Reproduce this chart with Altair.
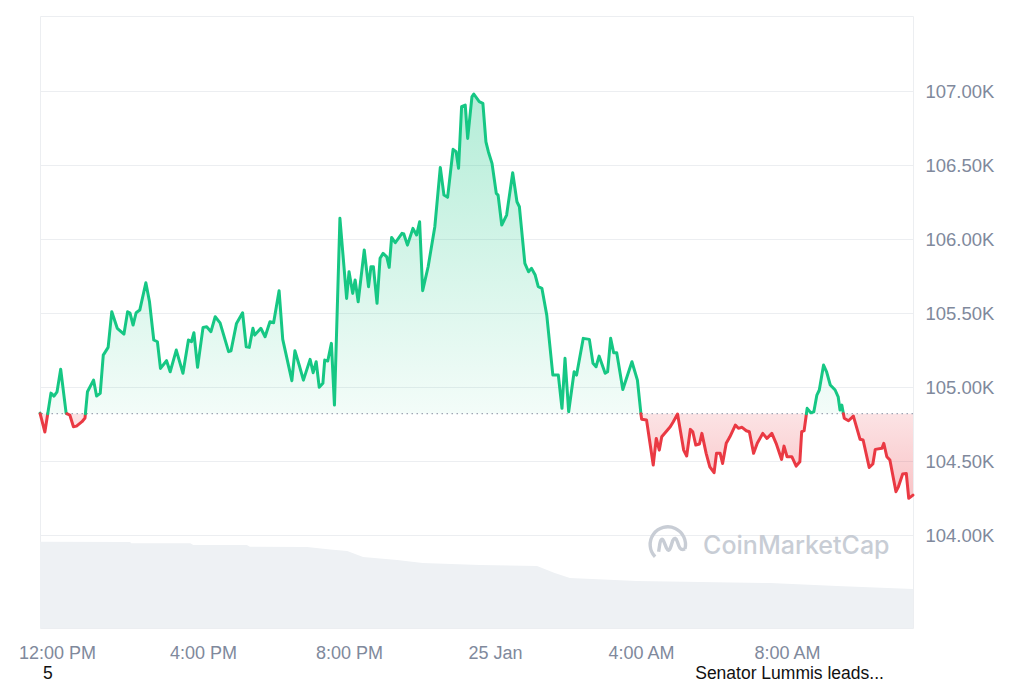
import altair as alt
import pandas as pd

# ---------------- data (prices in thousands of USD) ----------------
BASE_PRICE = 104.82  # reference price (dotted line)

TIMES = [
    "11:32","11:40","11:50","11:55","12:00","12:06","12:15","12:21","12:27","12:32",
    "12:41","12:46","12:50","13:00","13:05","13:11","13:16","13:24","13:30","13:39",
    "13:50","13:56","14:00","14:05","14:10","14:16","14:26","14:32","14:39","14:45",
    "14:50","15:00","15:06","15:16","15:27","15:36","15:41","15:45","15:51","16:00",
    "16:06","16:13","16:20","16:28","16:42","16:46","16:55","17:05","17:11","17:16",
    "17:22","17:25","17:35","17:42","17:50","17:56","18:05","18:11","18:26","18:31",
    "18:38","18:45","18:56","19:01","19:06","19:11","19:17","19:20","19:25","19:31",
    "19:36","19:45","19:56","20:00","20:06","20:10","20:15","20:25","20:32","20:36",
    "20:40","20:46","20:51","20:56","21:02","21:06","21:10","21:16","21:27","21:30",
    "21:36","21:45","21:51","21:56","22:01","22:10","22:21","22:30","22:36","22:42",
    "22:51","22:56","23:00","23:05","23:11","23:15","23:22","23:25","23:34","23:40",
    "23:45","23:49","23:55","00:02","00:05","00:11","00:19","00:29","00:36","00:40",
    "00:49","00:55","01:00","01:06","01:11","01:17","01:25","01:35","01:44","01:50",
    "01:55","02:01","02:10","02:14","02:25","02:35","02:41","02:46","02:51","03:01",
    "03:05","03:10","03:15","03:20","03:30","03:45","03:54","04:00","04:01","04:09",
    "04:20","04:25","04:30","04:34","04:48","04:53","05:00","05:10","05:15","05:21",
    "05:25","05:30","05:36","05:40","05:47","05:53","06:00","06:04","06:10","06:14",
    "06:20","06:26","06:35","06:40","06:46","06:53","06:58","07:05","07:11","07:20",
    "07:27","07:35","07:42","07:51","07:55","08:00","08:08","08:15","08:21","08:24",
    "08:28","08:33","08:39","08:44","08:49","08:53","09:00","09:05","09:11","09:19",
    "09:24","09:27","09:30","09:34","09:41","09:49","10:00","10:05","10:15","10:21",
    "10:25","10:36","10:39","10:44","10:49","10:59","11:03","11:10","11:16","11:20",
    "11:27",
]

PRICES = [
    104.824,104.696,104.959,104.939,104.968,105.120,104.822,104.811,104.732,104.736,
    104.766,104.791,104.968,105.047,104.939,104.957,105.216,105.268,105.509,105.397,
    105.358,105.509,105.500,105.419,105.502,105.520,105.705,105.576,105.318,105.306,
    105.126,105.178,105.103,105.250,105.093,105.318,105.306,105.367,105.133,105.403,
    105.407,105.374,105.475,105.434,105.239,105.245,105.430,105.502,105.272,105.268,
    105.397,105.351,105.397,105.340,105.441,105.434,105.651,105.322,105.043,105.245,
    105.149,105.047,105.187,105.097,105.171,104.998,105.025,105.182,105.176,105.295,
    104.878,106.140,105.599,105.779,105.633,105.723,105.576,105.926,105.678,105.813,
    105.813,105.566,105.870,105.903,105.880,105.809,106.011,105.975,106.039,106.034,
    105.959,106.072,106.027,106.117,105.651,105.813,106.083,106.484,106.297,106.282,
    106.606,106.590,106.478,106.894,106.905,106.680,106.961,106.980,106.928,106.917,
    106.657,106.590,106.511,106.309,106.297,106.095,106.162,106.448,106.252,106.218,
    105.836,105.779,105.802,105.757,105.678,105.667,105.486,105.081,105.081,104.856,
    105.194,104.833,105.103,105.081,105.329,105.322,105.160,105.137,105.209,105.093,
    105.103,105.329,105.232,105.232,104.984,105.171,105.047,104.811,104.782,104.777,
    104.473,104.653,104.574,104.664,104.732,104.766,104.818,104.574,104.534,104.714,
    104.698,104.608,104.615,104.687,104.552,104.461,104.421,104.552,104.552,104.484,
    104.620,104.664,104.743,104.721,104.728,104.705,104.698,104.552,104.620,104.687,
    104.653,104.687,104.620,104.511,104.601,104.529,104.529,104.466,104.495,104.698,
    104.705,104.856,104.826,104.833,104.946,104.980,105.149,105.103,105.014,104.980,
    104.934,104.845,104.878,104.789,104.772,104.804,104.647,104.642,104.457,104.480,
    104.579,104.586,104.620,104.529,104.507,104.293,104.326,104.412,104.416,104.248,
    104.270,
]

# trading volume (billions USD)
VOL_TIMES = ["11:32","14:00","14:02","15:39","15:44","17:12","17:17","18:51","19:29","19:57",
             "20:23","21:19","22:01","23:35","01:09","01:38","02:03","03:53","07:32","09:22","11:27"]
VOLUMES = [60.6,60.4,59.5,59.5,58.3,58.3,57.1,56.9,55.2,54.1,
           49.9,47.8,45.7,44.3,43.6,38.6,35.1,33.0,31.6,29.5,27.4]

X_TICKS = ["12:00","16:00","20:00","00:00","04:00","08:00"]
Y_TICKS = [104.0, 104.5, 105.0, 105.5, 106.0, 106.5, 107.0]
X_RANGE = ["11:32", "11:27"]
Y_RANGE = [103.372, 107.507]
VOL_RANGE = [0, 430]

assert len(TIMES) == len(PRICES)
assert len(VOL_TIMES) == len(VOLUMES)


def to_ts(hhmm_list, day=24):
    out, prev = [], -1
    for s in hhmm_list:
        h, m = map(int, s.split(":"))
        mins = h * 60 + m
        if mins < prev:
            day += 1
        prev = mins
        out.append(pd.Timestamp(2025, 1, day, h, m))
    return out


def dt(ts):
    return alt.DateTime(year=ts.year, month=ts.month, date=ts.day,
                        hours=ts.hour, minutes=ts.minute)


ts = to_ts(TIMES)

# insert baseline crossings
pts = []
for i in range(len(ts)):
    if i > 0:
        p0, p1 = PRICES[i - 1], PRICES[i]
        if (p0 - BASE_PRICE) * (p1 - BASE_PRICE) < 0:
            f = (BASE_PRICE - p0) / (p1 - p0)
            pts.append((ts[i - 1] + (ts[i] - ts[i - 1]) * f, BASE_PRICE))
    pts.append((ts[i], PRICES[i]))

# split into colored segments
segs, cur, cur_side = [], [], None
for j in range(len(pts) - 1):
    (t0, q0), (t1, q1) = pts[j], pts[j + 1]
    side = "up" if (q0 + q1) / 2 >= BASE_PRICE else "down"
    if side != cur_side:
        if cur:
            segs.append((cur_side, cur))
        cur, cur_side = [pts[j]], side
    cur.append(pts[j + 1])
segs.append((cur_side, cur))

line_rows = []
for k, (side, pl) in enumerate(segs):
    for t, q in pl:
        line_rows.append({"t": t, "p": q, "seg": k, "side": side})
line_df = pd.DataFrame(line_rows)

area_df = pd.DataFrame({
    "t": [t for t, _ in pts],
    "upper": [max(q, BASE_PRICE) for _, q in pts],
    "lower": [min(q, BASE_PRICE) for _, q in pts],
    "base": [BASE_PRICE] * len(pts),
})

vol_df = pd.DataFrame({"t": to_ts(VOL_TIMES), "v": VOLUMES})

xr = to_ts(X_RANGE)
x_scale = alt.Scale(domain=[dt(xr[0]), dt(xr[1])], nice=False)
x_ticks = [dt(t) for t in to_ts(X_TICKS)]

LABEL_FONT = "Liberation Sans"
LABEL_COLOR = "#80899c"
GREEN = "#16c784"
RED = "#ea3943"

X_AX = alt.Axis(
    values=x_ticks, title=None, grid=False, domain=False, ticks=False,
    labelExpr="hours(datum.value) == 0 ? timeFormat(datum.value, '%-d %b') : timeFormat(datum.value, '%-I:%M %p')",
    labelFont=LABEL_FONT, labelFontSize=18, labelColor=LABEL_COLOR,
    labelPadding=16, labelFlush=False, labelOverlap=False,
)
Y_AX = alt.Axis(
    orient="right", values=Y_TICKS, title=None, domain=False, ticks=False,
    labelExpr="format(datum.value, '.2f') + 'K'",
    labelFont=LABEL_FONT, labelFontSize=18.5, labelColor=LABEL_COLOR,
    labelPadding=12, grid=True, gridColor="#eceef1", gridWidth=1,
)
y_scale = alt.Scale(domain=Y_RANGE, nice=False, zero=False)

X = alt.X("t:T", scale=x_scale, axis=X_AX)

# ---------------- layers ----------------
volume = alt.Chart(vol_df).mark_area(color="#eef1f4", interpolate="linear").encode(
    x=X,
    y=alt.Y("v:Q", scale=alt.Scale(domain=VOL_RANGE, nice=False), axis=None),
)

green_grad = alt.Gradient(
    gradient="linear", x1=0, x2=0, y1=0, y2=1,
    stops=[alt.GradientStop(color="rgba(22,199,132,0.32)", offset=0),
           alt.GradientStop(color="rgba(22,199,132,0.05)", offset=1)],
)
red_grad = alt.Gradient(
    gradient="linear", x1=0, x2=0, y1=0, y2=1,
    stops=[alt.GradientStop(color="rgba(234,57,67,0.14)", offset=0),
           alt.GradientStop(color="rgba(234,57,67,0.30)", offset=1)],
)

up_area = alt.Chart(area_df).mark_area(color=green_grad).encode(
    x=X, y=alt.Y("upper:Q", scale=y_scale, axis=Y_AX), y2="base:Q",
)
down_area = alt.Chart(area_df).mark_area(color=red_grad).encode(
    x=X, y=alt.Y("lower:Q", scale=y_scale, axis=Y_AX), y2="base:Q",
)

base_df = pd.DataFrame({"base": [BASE_PRICE]})
base_rule = alt.Chart(base_df).mark_rule(
    color="#9ea5b4", strokeDash=[1.5, 3.5], strokeWidth=1.3
).encode(y=alt.Y("base:Q", scale=y_scale, axis=Y_AX))

lines = alt.Chart(line_df).mark_line(
    strokeWidth=3, strokeJoin="round", strokeCap="round"
).encode(
    x=X,
    y=alt.Y("p:Q", scale=y_scale, axis=Y_AX),
    color=alt.Color("side:N", scale=alt.Scale(domain=["up", "down"], range=[GREEN, RED]), legend=None),
    detail="seg:N",
)

# watermark
WM_COLOR = "#c8cdd5"
logo_df = pd.DataFrame({"t": to_ts(["04:44"], day=25), "p": [103.937]})
LOGO_PATH = ("M -0.72 0.7 A 1 1 0 1 1 0.97 0.25 "
             "M -0.52 0.42 L -0.45 -0.05 Q -0.36 -0.5 -0.2 -0.1 L -0.08 0.2 "
             "Q 0.05 0.5 0.18 0.1 L 0.28 -0.22 Q 0.42 -0.5 0.55 -0.12 L 0.62 0.08 "
             "Q 0.72 0.38 0.97 0.25")
logo = alt.Chart(logo_df).mark_point(
    shape=LOGO_PATH, size=1250, filled=False, stroke=WM_COLOR, strokeWidth=3.4, opacity=1
).encode(x=X, y=alt.Y("p:Q", scale=y_scale, axis=Y_AX))

wm_df = pd.DataFrame({"t": to_ts(["05:42"], day=25), "p": [103.928], "label": ["CoinMarketCap"]})
wm_text = alt.Chart(wm_df).mark_text(
    align="left", baseline="middle", font="Inter", fontSize=25, fontWeight=500, color=WM_COLOR
).encode(x=X, y=alt.Y("p:Q", scale=y_scale, axis=Y_AX), text="label:N")

note_df = pd.DataFrame({
    "t": to_ts(["11:37", "05:29"]),
    "label": ["5", "Senator Lummis leads..."],
})
notes = alt.Chart(note_df).mark_text(
    align="left", baseline="middle", font=LABEL_FONT, fontSize=17.5, color="#111111"
).encode(x=X, y=alt.value(658), text="label:N")

price_layer = alt.layer(up_area, down_area, base_rule, lines, logo, wm_text, notes)

chart = alt.layer(volume, price_layer).resolve_scale(y="independent").properties(
    width=873, height=612,
    autosize=alt.AutoSizeParams(type="none"),
    padding={"left": 32, "top": 8, "right": 90, "bottom": 55},
    background="white",
).configure_view(stroke="#eceef1", strokeWidth=1)

chart.save("out.html", embed_options={"renderer": "svg", "actions": False})
